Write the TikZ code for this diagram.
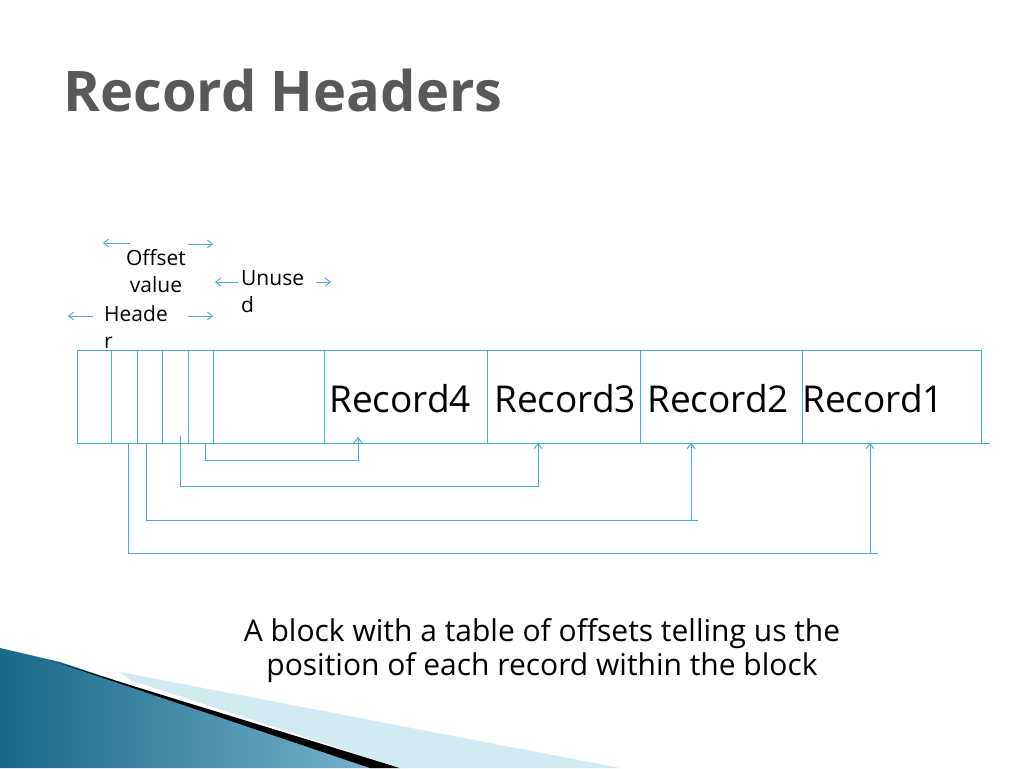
\documentclass[tikz,border=0pt]{standalone}
\usepackage{fontspec}
\setmainfont{Open Sans}
\usetikzlibrary{arrows.meta}
\definecolor{teal1}{RGB}{75,172,198}
\definecolor{deco}{RGB}{30,130,170}
\definecolor{titlegray}{RGB}{89,89,89}
\tikzset{ln/.style={draw=teal1,line width=0.9pt},
 ar/.style={ln,-{Straight Barb[length=5pt,width=8pt]}},
 lbl/.style={font=\fontsize{21}{27}\selectfont,align=center,inner sep=0pt},
 rec/.style={font=\fontsize{37}{40}\selectfont,inner sep=0pt}}
\begin{document}
\begin{tikzpicture}[x=1pt,y=-1pt]
\useasboundingbox (0,0) rectangle (1024,768);
% decoration
\shade[left color=deco!80!black,right color=deco!60!white] (0,648) -- (60,662) -- (380,768) -- (0,768) -- cycle;
\fill[black] (50,660) -- (120,682) -- (400,768) -- (370,768) -- cycle;
\fill[teal1!25] (120,672) -- (620,768) -- (400,768) -- (130,680) -- cycle;
% title
\node[anchor=west,font=\bfseries\fontsize{56}{60}\selectfont,text=titlegray,inner sep=0pt] (title) at (63,90) {Record Headers};
% block
\draw[ln] (77,350) -- (981,350);
\draw[ln] (77,443) -- (990,443);
\foreach \x in {77,111,137,162,188,213,324,487,640,802,981}{\draw[ln] (\x,350) -- (\x,443);}
\coordinate (r4) at (358,437);
\coordinate (r3) at (538,443);
\coordinate (r2) at (691,443);
\coordinate (r1) at (870,443);
\node[rec,anchor=west] (t4) at (329,399) {Record4};
\node[rec,anchor=west] (t3) at (494,399) {Record3};
\node[rec,anchor=west] (t2) at (647,399) {Record2};
\node[rec,anchor=west] (t1) at (802,399) {Record1};
% connectors
\coordinate (o1) at (205,443);
\coordinate (o2) at (180,436);
\coordinate (o3) at (146,443);
\coordinate (o4) at (128,443);
\draw[ar] (o1) |- (358,460) -- (r4);
\draw[ar] (o2) |- (538,486) -- (r3);
\draw[ln] (o3) |- (698,520);
\draw[ar] (691,520) -- (r2);
\draw[ln] (o4) |- (878,553);
\draw[ar] (870,553) -- (r1);
% labels
\node[lbl] (off) at (156,271) {Offset\\ value};
\draw[ar] (130,243) -- (103,243);
\draw[ar] (188,244) -- (213,244);
\node[lbl,align=left,anchor=north west] (un) at (241,270) {Unuse\\d};
\draw[ar] (238,282) -- (215,282);
\draw[ar] (316,282) -- (331,282);
\node[lbl,align=left,anchor=north west] (hd) at (104,305) {Heade\\r};
\draw[ar] (93,316) -- (68,316);
\draw[ar] (188,316) -- (213,316);
% caption
\node[font=\fontsize{30}{34}\selectfont,align=center] (cap) at (542,651) {A block with a table of offsets telling us the\\ position of each record within the block};
\end{tikzpicture}
\end{document}
